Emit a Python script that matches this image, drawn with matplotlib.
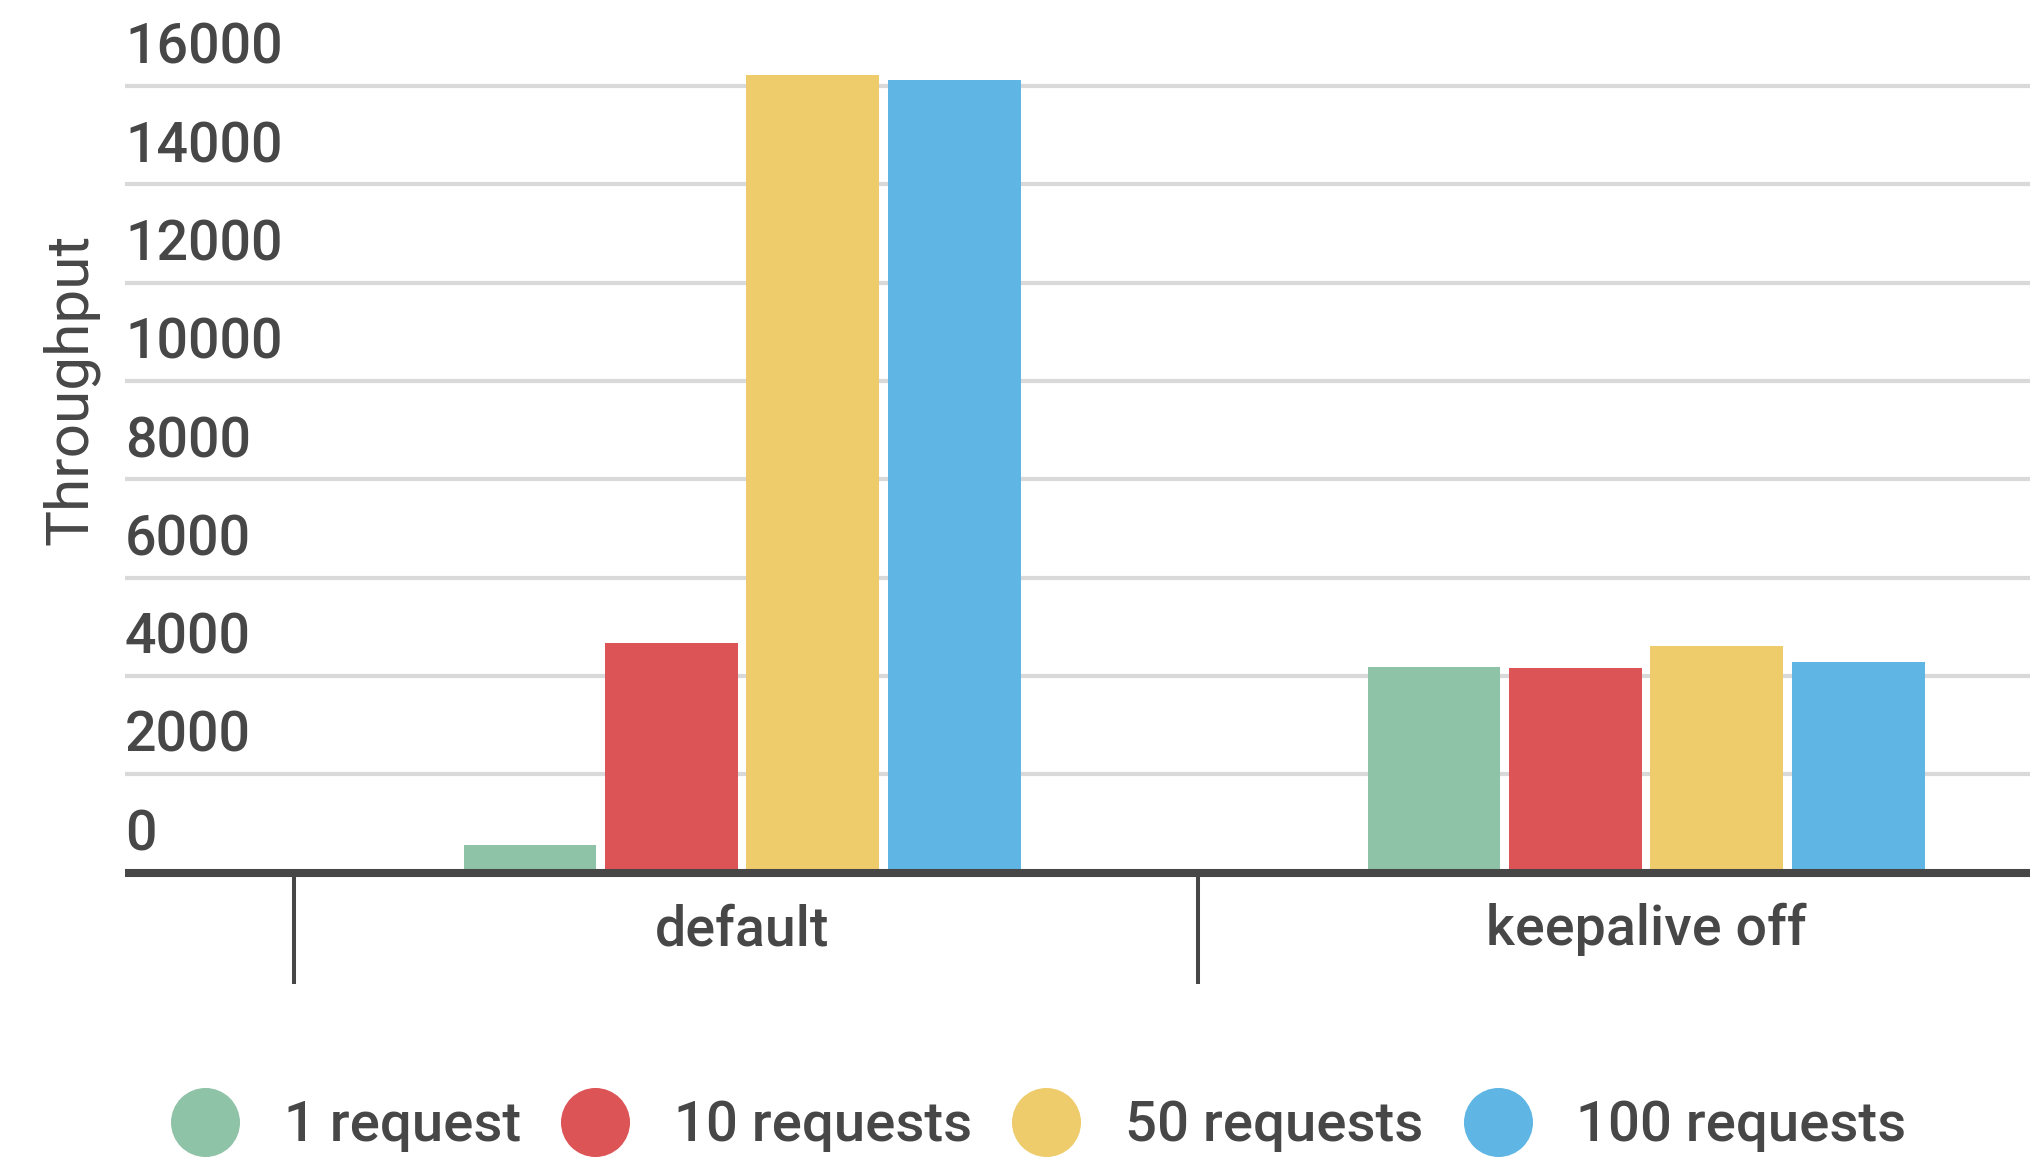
import numpy as np
import matplotlib
matplotlib.use("Agg")
import matplotlib.pyplot as plt
import matplotlib.transforms as mtransforms
from matplotlib.lines import Line2D

# data
groups = ["default", "keepalive off"]
series = ["1 request", "10 requests", "50 requests", "100 requests"]
one_req = [560, 4190]
ten_req = [4670, 4160]
fifty_req = [16220, 4600]
hundred_req = [16120, 4290]
yticks = [0, 2000, 4000, 6000, 8000, 10000, 12000, 14000, 16000]

colors = ["#8fc3a8", "#dc5456", "#eecb6b", "#5fb6e4"]
txt = "#474747"

plt.rcParams["font.family"] = ["Roboto", "DejaVu Sans"]

fig = plt.figure(figsize=(20.31, 11.73), dpi=100)
ax = fig.add_axes([125 / 2031, 1 - 872.5 / 1173, 1 - 125 / 2031, 872.5 / 1173])

x = np.arange(len(groups))
width = 0.147
step = 0.1565
vals = [one_req, ten_req, fifty_req, hundred_req]
for i, (v, c) in enumerate(zip(vals, colors)):
    ax.bar(x + (i - 1.5) * step, v, width, color=c, label=series[i], zorder=2)

# grid
ax.set_yticks(yticks)
ax.yaxis.grid(True, color="#d9d9d9", lw=3)
ax.set_axisbelow(True)
ax.tick_params(axis="y", length=0, labelleft=False)

# y tick labels sit above the grid lines
off = mtransforms.ScaledTranslation(0, 16 / 72, fig.dpi_scale_trans)
for t in yticks:
    ax.text(0.0, t, str(t), transform=mtransforms.blended_transform_factory(ax.transAxes, ax.transData) + off,
            ha="left", va="baseline", fontsize=40, color=txt, fontweight="medium")

for s in ["left", "right", "top"]:
    ax.spines[s].set_visible(False)
ax.spines["bottom"].set_color(txt)
ax.spines["bottom"].set_linewidth(5.8)
ax.spines["bottom"].set_capstyle("butt")

ax.set_xticks(x)
ax.set_xticklabels(groups, fontsize=40, color=txt, fontweight="medium")
ax.tick_params(axis="x", which="major", length=0, pad=22)
# separators between categories
ax.set_xticks([-0.496, 0.504, 1.504], minor=True)
ax.tick_params(axis="x", which="minor", length=80, width=2.9, color=txt, direction="out")

ax.set_xlim(-0.6827, 1.4257)
ax.set_ylim(0, 17750)

fig.text(71 / 2031, 1 - 389 / 1173, "Throughput", rotation=90, ha="center", va="center",
         fontsize=43.5, color=txt, fontweight="normal")

handles = [Line2D([], [], marker="o", ls="none", markersize=49.7, markerfacecolor=c, markeredgecolor="none")
           for c in colors]
leg = fig.legend(handles, series, loc="center", bbox_to_anchor=(1039 / 2031, 1 - 1126 / 1173), ncol=4,
                 frameon=False, fontsize=40.5, handlelength=1.2, handletextpad=0.8, columnspacing=0.72,
                 borderpad=0, borderaxespad=0)
for t in leg.get_texts():
    t.set_color(txt)
    t.set_fontweight("medium")

fig.savefig("out.png", dpi=100)
